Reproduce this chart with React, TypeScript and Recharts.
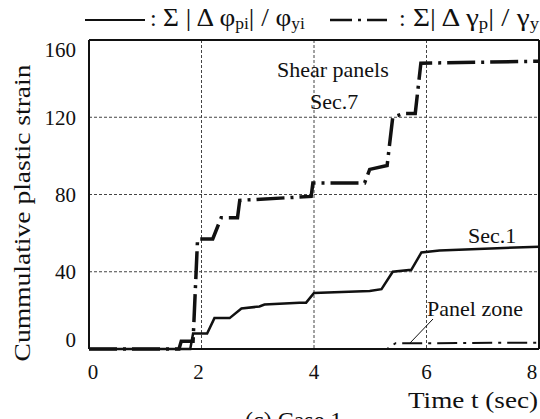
import React from "react";
import {
  LineChart,
  Line,
  XAxis,
  YAxis,
  CartesianGrid,
  ReferenceLine,
} from "recharts";

// Sec.1 — cumulative plastic rotation (solid)
const sec1Time = [0, 1.8, 1.85, 2.1, 2.23, 2.5, 2.71, 3.03, 3.12, 3.74, 3.86, 4.0, 4.99, 5.2, 5.4, 5.73, 5.91, 6.23, 8];
const sec1Value = [0, 0, 8, 8, 16, 16, 21, 22, 23, 24, 24, 29, 30, 31, 40, 41, 50, 51, 53];

// Sec.7 shear panels — cumulative plastic shear strain (dash-dot)
const sec7Time = [0, 1.6, 1.64, 1.85, 1.93, 2.2, 2.35, 2.64, 2.68, 3.95, 3.98, 4.9, 4.99, 5.3, 5.4, 5.6, 5.8, 5.9, 8];
const sec7Value = [0, 0, 4, 4, 57, 57, 68, 68, 77, 79, 86, 86, 93, 95, 120, 122, 122, 148, 149];

// Panel zone (dash-dot, thin)
const panelTime = [0, 5.3, 5.45, 6.0, 8];
const panelValue = [0, 0, 3, 3, 3.3];

const xTicks = [0, 2, 4, 6, 8];
const yTicks = [0, 40, 80, 120, 160];

const toData = (t: number[], v: number[]) => t.map((time, i) => ({ t: time, v: v[i] }));

const sec1Data = toData(sec1Time, sec1Value);
const sec7Data = toData(sec7Time, sec7Value);
const panelData = toData(panelTime, panelValue);

const FONT = "Liberation Serif";
const DASH_DOT = "28 6 3 6";

const YTick = (props: any) => {
  const { x, y, payload } = props;
  let dy = 0;
  if (payload.value === 160) dy = 10;
  if (payload.value === 0) dy = -9;
  return (
    <text x={x - 5} y={y + dy} dy="0.35em" textAnchor="end" fontFamily={FONT} fontSize={21} fill="#111">
      {payload.value}
    </text>
  );
};

const XTick = (props: any) => {
  const { x, y, payload } = props;
  let dx = 0;
  if (payload.value === 0) dx = 4;
  if (payload.value === 2) dx = -3;
  if (payload.value === 8) dx = -4;
  return (
    <text x={x + dx} y={y + 15} dy="0.35em" textAnchor="middle" fontFamily={FONT} fontSize={21} fill="#111">
      {payload.value}
    </text>
  );
};

export default function App() {
  return (
    <div style={{ position: "absolute", left: 0, top: 0, width: 540, height: 419, background: "#fff", overflow: "hidden" }}>
      <LineChart width={540} height={419} margin={{ top: 40, right: 1, bottom: 40, left: 0 }}>
        <CartesianGrid stroke="#444" strokeDasharray="3 2" strokeWidth={1} />
        <XAxis
          type="number"
          dataKey="t"
          domain={[0, 8]}
          ticks={xTicks}
          height={30}
          allowDuplicatedCategory={false}
          tick={<XTick />}
          tickLine={false}
          axisLine={{ stroke: "#111", strokeWidth: 2 }}
        />
        <YAxis
          type="number"
          domain={[0, 160]}
          ticks={yTicks}
          width={89}
          tick={<YTick />}
          tickLine={false}
          axisLine={{ stroke: "#111", strokeWidth: 2 }}
        />
        <ReferenceLine y={160} stroke="#111" strokeWidth={2} />
        <ReferenceLine x={8} stroke="#111" strokeWidth={2} />
        <Line data={panelData} dataKey="v" name="Panel zone" stroke="#111" strokeWidth={2} strokeDasharray="20 6 3 6" dot={false} isAnimationActive={false} />
        <Line data={sec1Data} dataKey="v" name="Sec.1" stroke="#111" strokeWidth={2.5} dot={false} isAnimationActive={false} />
        <Line data={sec7Data} dataKey="v" name="Sec.7" stroke="#111" strokeWidth={3.5} strokeDasharray={DASH_DOT} dot={false} isAnimationActive={false} />
      </LineChart>
      <svg width={540} height={419} style={{ position: "absolute", left: 0, top: 0, pointerEvents: "none" }}>
        <g fill="#111" fontFamily={FONT}>
          {/* legend */}
          <line x1={85} x2={145} y1={20} y2={20} stroke="#111" strokeWidth={2} />
          <text x={150} y={26} fontSize={24}>:</text>
          <text x={163} y={26} fontSize={25} textLength={142} lengthAdjust="spacingAndGlyphs">
            Σ | Δ φ<tspan fontSize={16} dy={3}>pi</tspan>
            <tspan dy={-3}>| / φ</tspan>
            <tspan fontSize={16} dy={3}>yi</tspan>
          </text>
          <line x1={330} x2={387} y1={20} y2={20} stroke="#111" strokeWidth={2.5} strokeDasharray="22 6 3 6" />
          <text x={399} y={26} fontSize={24}>:</text>
          <text x={413} y={26} fontSize={25} textLength={126} lengthAdjust="spacingAndGlyphs">
            Σ| Δ γ<tspan fontSize={16} dy={3}>p</tspan>
            <tspan dy={-3}>| / γ</tspan>
            <tspan fontSize={16} dy={3}>y</tspan>
          </text>

          <text x={22} y={213} fontSize={23} textAnchor="middle" transform="rotate(-90 22 213)" dy="0.35em" textLength={297} lengthAdjust="spacingAndGlyphs">
            Cummulative plastic strain
          </text>
          <text x={277} y={77} fontSize={22}>Shear panels</text>
          <text x={310} y={109} fontSize={22}>Sec.7</text>
          <text x={468} y={243} fontSize={22}>Sec.1</text>
          <text x={427} y={316} fontSize={22}>Panel zone</text>
          <line x1={433} y1={319} x2={410} y2={343} stroke="#111" strokeWidth={1} />
          <text x={408} y={408} fontSize={24} textLength={130} lengthAdjust="spacingAndGlyphs">Time t (sec)</text>
          <text x={245} y={428} fontSize={24}>(c) Case 1</text>
        </g>
      </svg>
    </div>
  );
}
